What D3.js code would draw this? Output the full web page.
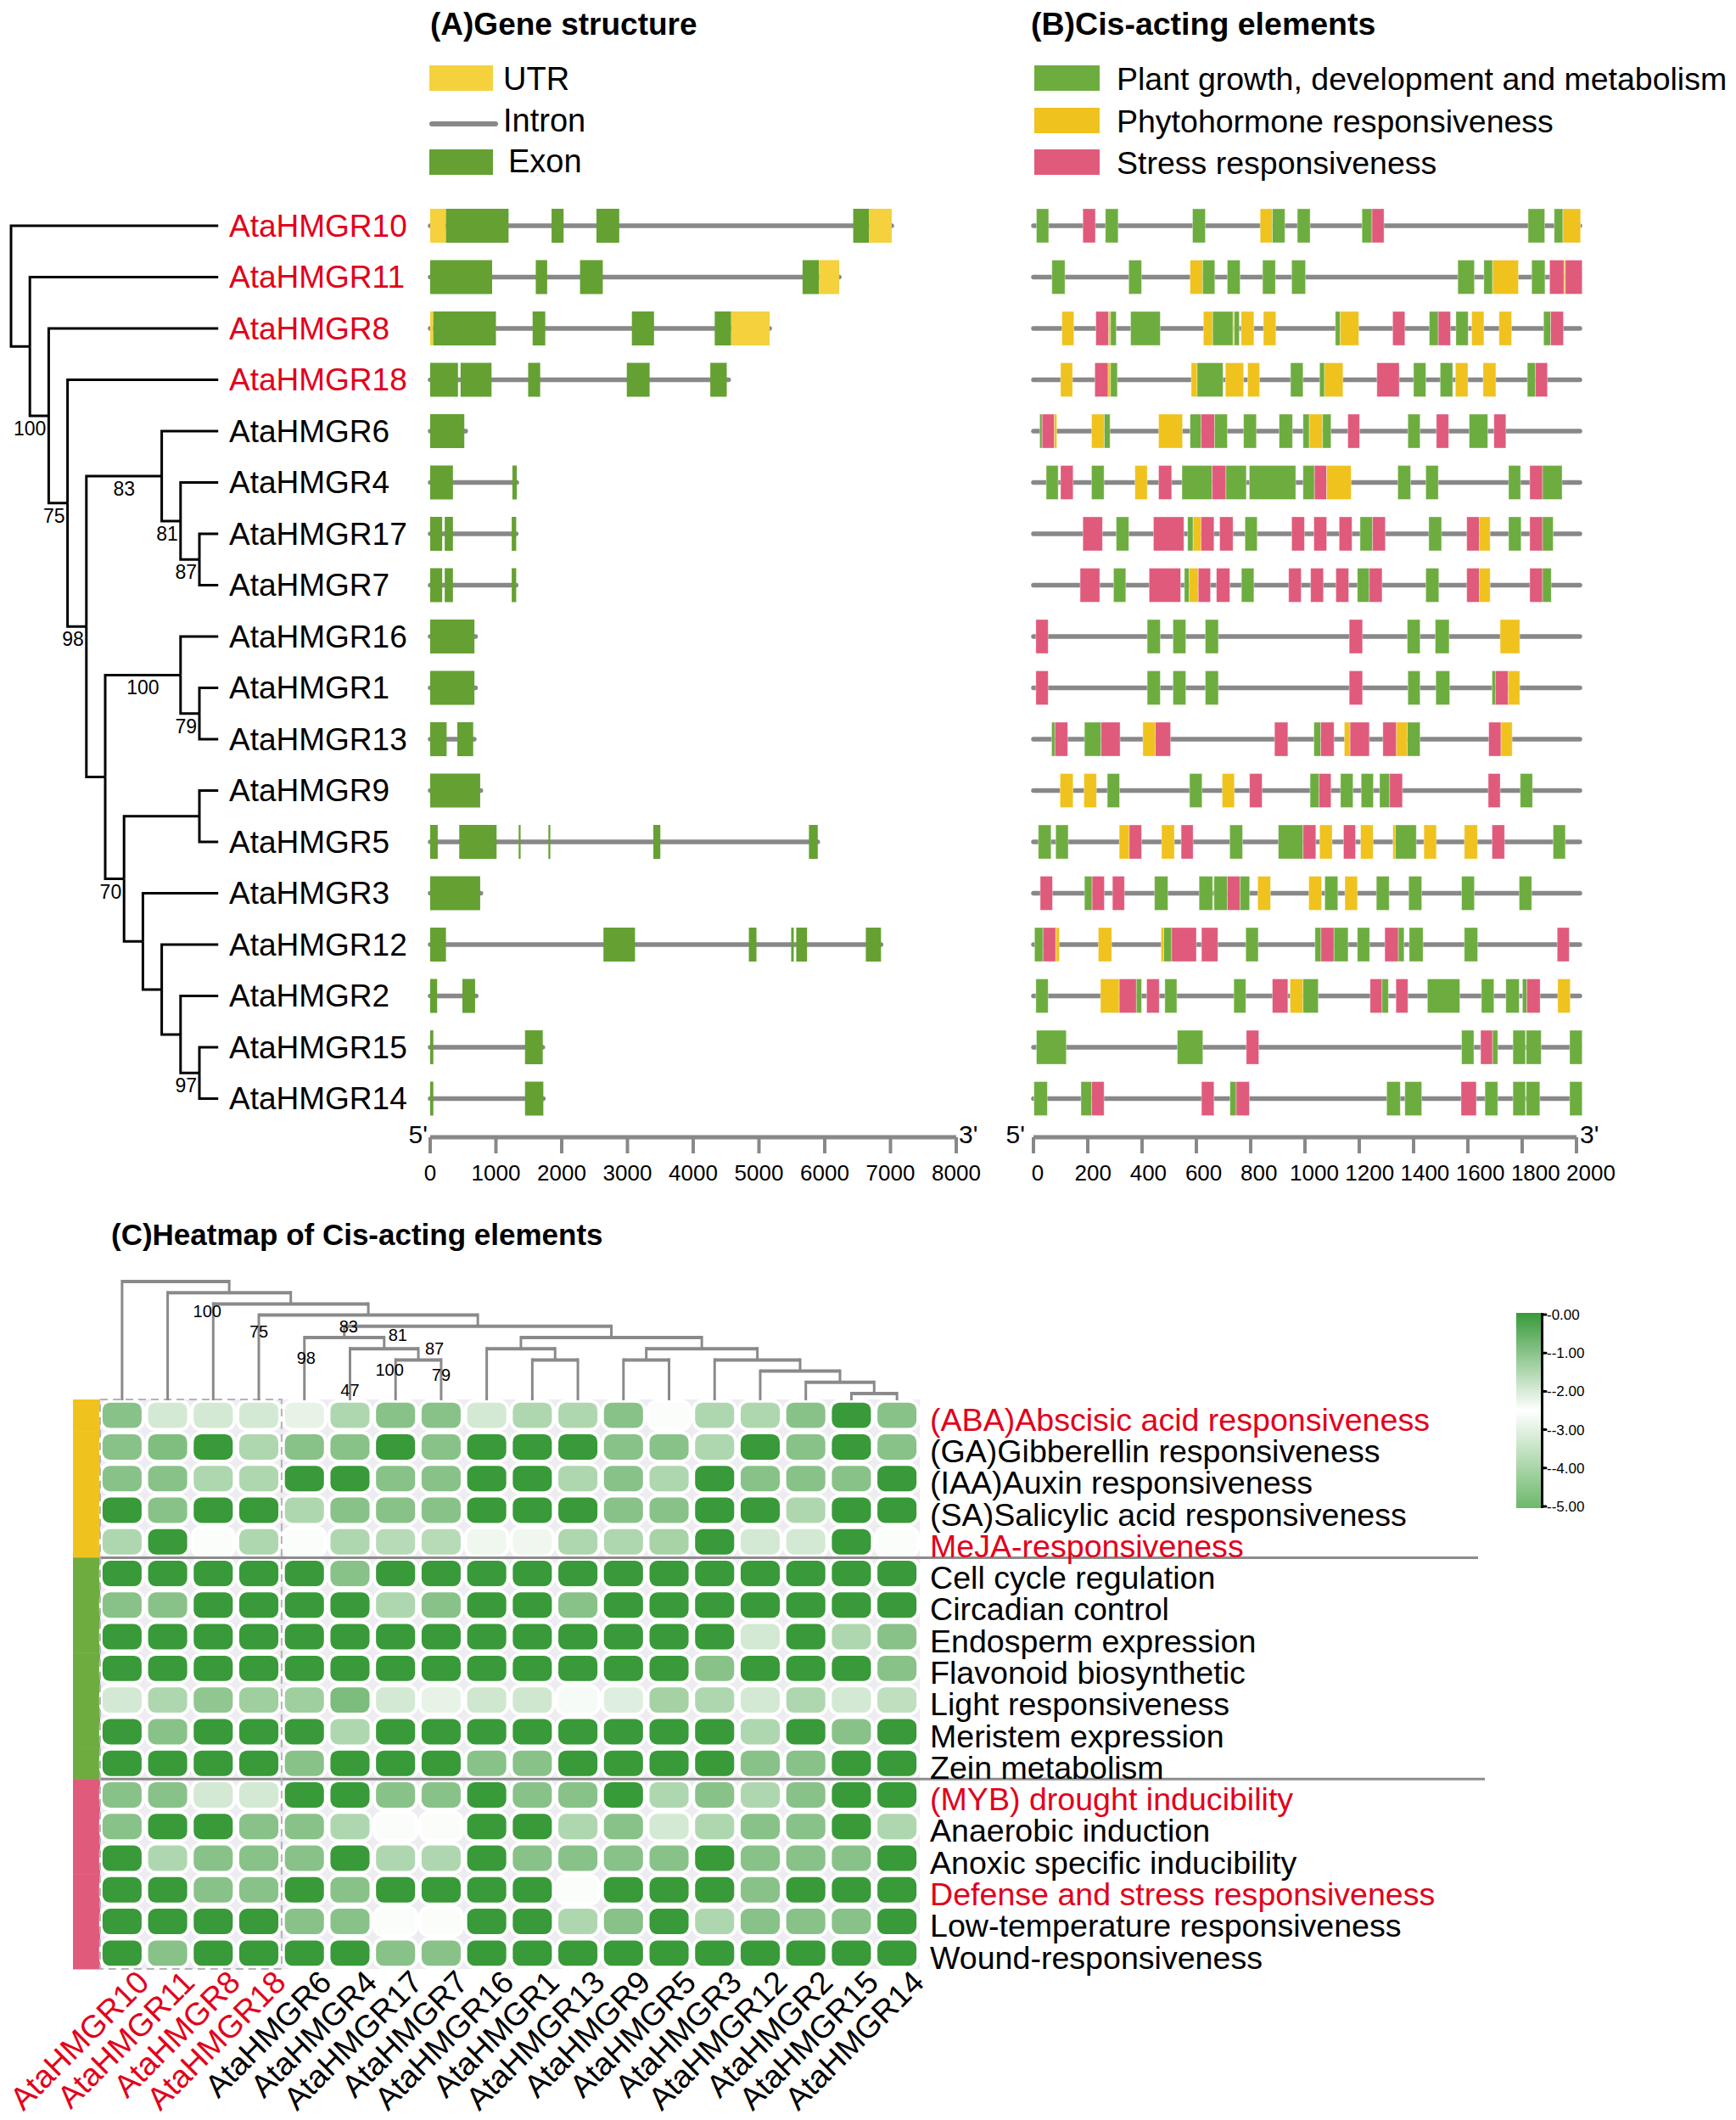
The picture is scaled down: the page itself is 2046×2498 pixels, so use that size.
<!DOCTYPE html>
<html><head><meta charset="utf-8">
<script src="https://cdn.jsdelivr.net/npm/d3@7"></script>
<style>body{margin:0;background:#fff;} svg{display:block;} text{font-family:"Liberation Sans", Arial, Helvetica, sans-serif;}</style>
</head><body><svg id="c" width="2046" height="2498"></svg>
<script>
// ---------------- DATA ----------------
const genes = ["AtaHMGR10","AtaHMGR11","AtaHMGR8","AtaHMGR18","AtaHMGR6","AtaHMGR4","AtaHMGR17","AtaHMGR7","AtaHMGR16","AtaHMGR1","AtaHMGR13","AtaHMGR9","AtaHMGR5","AtaHMGR3","AtaHMGR12","AtaHMGR2","AtaHMGR15","AtaHMGR14"];
const highlightGenes = ["AtaHMGR10","AtaHMGR11","AtaHMGR8","AtaHMGR18"];

// phylogenetic tree (bootstrap support on internal nodes)
const phyloTree = {children:[
  {name:"AtaHMGR10"},
  {children:[
    {name:"AtaHMGR11"},
    {support:100, children:[
      {name:"AtaHMGR8"},
      {support:75, children:[
        {name:"AtaHMGR18"},
        {support:98, children:[
          {support:83, children:[
            {name:"AtaHMGR6"},
            {support:81, children:[
              {name:"AtaHMGR4"},
              {support:87, children:[{name:"AtaHMGR17"},{name:"AtaHMGR7"}]}
            ]}
          ]},
          {children:[
            {support:100, children:[
              {name:"AtaHMGR16"},
              {support:79, children:[{name:"AtaHMGR1"},{name:"AtaHMGR13"}]}
            ]},
            {support:70, children:[
              {children:[{name:"AtaHMGR9"},{name:"AtaHMGR5"}]},
              {children:[
                {name:"AtaHMGR3"},
                {children:[
                  {name:"AtaHMGR12"},
                  {children:[
                    {name:"AtaHMGR2"},
                    {support:97, children:[{name:"AtaHMGR15"},{name:"AtaHMGR14"}]}
                  ]}
                ]}
              ]}
            ]}
          ]}
        ]}
      ]}
    ]}
  ]}
]};

// gene structure (bp): length and features [type, start, end]; U = UTR, E = exon
const geneLengths = [7019,6221,5163,4538,540,1317,1308,1308,690,690,670,770,5894,770,6856,700,1712,1721];
const geneFeatures = [
  [["U",0,240],["E",240,1192],["E",1846,2029],["E",2529,2875],["E",6433,6673],["U",6673,7019]],
  [["E",0,942],["E",1606,1779],["E",2279,2625],["E",5663,5913],["U",5913,6221]],
  [["U",0,48],["E",48,1000],["E",1558,1750],["E",3067,3404],["E",4327,4577],["U",4577,5163]],
  [["E",0,423],["E",462,933],["E",1490,1673],["E",2990,3337],["E",4260,4510]],
  [["E",0,519]],
  [["E",0,346],["E",1250,1317]],
  [["E",0,183],["E",221,346],["E",1240,1308]],
  [["E",0,183],["E",221,346],["E",1240,1308]],
  [["E",0,673]],
  [["E",0,673]],
  [["E",0,250],["E",413,654]],
  [["E",0,760]],
  [["E",0,115],["E",442,1010],["E",1346,1375],["E",1798,1827],["E",3394,3500],["E",5760,5894]],
  [["E",0,760]],
  [["E",0,240],["E",2635,3115],["E",4846,4962],["E",5490,5529],["E",5567,5731],["E",6625,6856]],
  [["E",0,106],["E",490,683]],
  [["E",0,48],["E",1442,1712]],
  [["E",0,48],["E",1442,1721]]
];
const geneAxisTicks = [0,1000,2000,3000,4000,5000,6000,7000,8000];

// cis-acting elements in 2000 bp promoters: [category, start, end]
// G = plant growth/development/metabolism, Y = phytohormone, P = stress
const promoterLength = 2000;
const cisElements = [
  [["G",11,56],["P",182,228],["G",265,312],["G",586,633],["Y",835,880],["G",880,926],["G",972,1019],["G",1210,1247],["P",1247,1291],["G",1822,1883],["G",1918,1950],["Y",1950,2015]],
  [["G",68,116],["G",351,398],["Y",577,623],["G",623,668],["G",714,761],["G",844,891],["G",951,1002],["G",1563,1624],["G",1659,1691],["Y",1691,1786],["G",1835,1884],["P",1901,1954],["Y",1954,1959],["P",1959,2021]],
  [["Y",105,149],["P",230,277],["Y",277,284],["G",284,305],["G",358,467],["Y",626,660],["G",660,735],["Y",735,740],["G",740,758],["Y",765,812],["Y",847,893],["G",1112,1130],["Y",1130,1198],["P",1323,1368],["G",1458,1491],["P",1491,1536],["G",1556,1601],["Y",1614,1659],["Y",1715,1761],["G",1879,1905],["P",1905,1952]],
  [["Y",100,144],["P",226,275],["Y",275,284],["G",284,309],["Y",581,603],["G",603,698],["Y",707,774],["Y",789,833],["G",947,993],["G",1054,1072],["Y",1072,1140],["P",1265,1347],["G",1400,1445],["G",1498,1544],["Y",1554,1600],["Y",1656,1703],["G",1819,1849],["P",1849,1893]],
  [["G",23,32],["P",32,77],["Y",77,86],["Y",214,261],["G",261,282],["Y",461,549],["G",577,617],["P",617,667],["G",667,714],["G",774,821],["G",905,954],["G",993,1016],["Y",1016,1065],["G",1065,1096],["P",1158,1201],["G",1379,1424],["P",1484,1529],["G",1605,1673],["P",1696,1740]],
  [["G",47,91],["P",100,146],["G",214,260],["Y",374,419],["P",461,509],["G",547,658],["P",658,709],["G",709,784],["G",795,966],["G",993,1035],["P",1035,1080],["Y",1080,1170],["G",1342,1389],["G",1445,1491],["G",1750,1794],["P",1828,1875],["G",1875,1947]],
  [["P",182,254],["G",305,351],["P",442,554],["G",568,588],["Y",588,617],["P",617,665],["P",686,735],["G",779,824],["P",951,998],["P",1033,1080],["P",1126,1173],["G",1203,1249],["P",1249,1296],["G",1456,1503],["P",1596,1642],["Y",1642,1682],["G",1750,1796],["P",1828,1875],["G",1875,1914]],
  [["P",172,244],["G",295,340],["P",426,542],["G",556,574],["Y",574,607],["P",607,652],["P",674,723],["G",766,812],["P",940,986],["P",1021,1068],["P",1114,1161],["G",1193,1237],["P",1237,1284],["G",1445,1493],["P",1596,1642],["Y",1642,1682],["P",1828,1875],["G",1875,1907]],
  [["P",9,54],["G",419,467],["G",514,561],["G",633,681],["P",1163,1212],["G",1377,1424],["G",1480,1531],["Y",1719,1791]],
  [["P",9,54],["G",419,467],["G",514,561],["G",633,681],["P",1163,1212],["G",1379,1424],["G",1482,1533],["G",1689,1701],["P",1701,1749],["Y",1749,1791]],
  [["G",67,79],["P",79,126],["G",188,249],["P",249,319],["Y",403,449],["P",449,505],["P",888,937],["G",1033,1058],["P",1058,1107],["Y",1145,1166],["P",1166,1237],["P",1287,1337],["Y",1337,1377],["G",1377,1424],["P",1677,1722],["Y",1722,1763]],
  [["Y",98,146],["Y",186,232],["G",272,317],["G",575,621],["Y",695,740],["P",796,842],["G",1019,1052],["P",1052,1096],["G",1131,1177],["G",1207,1252],["G",1275,1312],["P",1312,1359],["P",1675,1719],["G",1793,1838]],
  [["G",18,65],["G",82,128],["Y",316,353],["P",353,398],["Y",472,519],["P",544,588],["G",723,770],["G",902,993],["P",993,1040],["Y",1054,1100],["P",1142,1186],["Y",1205,1251],["Y",1324,1333],["G",1333,1410],["Y",1438,1484],["Y",1587,1635],["P",1689,1735],["G",1914,1959]],
  [["P",25,70],["G",188,216],["P",216,261],["P",291,335],["G",446,495],["G",610,660],["G",665,714],["P",714,761],["G",761,796],["Y",826,873],["Y",1014,1061],["G",1073,1121],["Y",1147,1193],["G",1263,1310],["G",1382,1430],["G",1577,1624],["G",1789,1835]],
  [["G",4,35],["P",35,82],["Y",82,95],["Y",239,288],["Y",470,480],["G",480,509],["P",509,600],["P",619,679],["G",782,828],["G",1037,1059],["P",1059,1107],["G",1107,1159],["G",1193,1238],["P",1294,1344],["G",1344,1365],["G",1384,1435],["G",1587,1636],["P",1929,1973]],
  [["G",9,54],["Y",247,316],["P",316,379],["G",379,398],["P",417,463],["G",484,528],["G",738,782],["P",880,937],["Y",945,993],["G",993,1049],["P",1240,1284],["G",1284,1307],["P",1335,1379],["G",1451,1570],["G",1650,1696],["G",1740,1789],["G",1801,1817],["P",1817,1866],["Y",1931,1977]],
  [["G",11,121],["G",530,624],["P",784,830],["G",1577,1622],["P",1647,1691],["G",1691,1710],["G",1766,1812],["G",1815,1870],["G",1975,2021]],
  [["G",2,51],["G",175,214],["P",214,260],["P",619,665],["G",724,747],["P",747,795],["G",1301,1351],["G",1368,1430],["P",1575,1631],["G",1663,1710],["G",1766,1812],["G",1815,1865],["G",1975,2021]]
];
const cisAxisTicks = [0,200,400,600,800,1000,1200,1400,1600,1800,2000];
const cisCategories = ["G","Y","P"];
const cisCategoryNames = ["Plant growth, development and metabolism","Phytohormone responsiveness","Stress responsiveness"];

// heatmap
const heatRows = ["(ABA)Abscisic acid responsiveness","(GA)Gibberellin responsiveness","(IAA)Auxin responsiveness","(SA)Salicylic acid responsiveness","MeJA-responsiveness","Cell cycle regulation","Circadian control","Endosperm expression","Flavonoid biosynthetic","Light responsiveness","Meristem expression","Zein metabolism","(MYB) drought inducibility","Anaerobic induction","Anoxic specific inducibility","Defense and stress responsiveness","Low-temperature responsiveness","Wound-responsiveness"];
const heatRowGroups = ["Y","Y","Y","Y","Y","G","G","G","G","G","G","G","P","P","P","P","P","P"];
const highlightRows = ["(ABA)Abscisic acid responsiveness","MeJA-responsiveness","(MYB) drought inducibility","Defense and stress responsiveness"];
const heatValues = [
  [-1.0,-1.95,-1.95,-1.95,-2.2,-1.5,-1.0,-1.0,-1.95,-1.5,-1.5,-1.0,-2.45,-1.5,-1.5,-1.0,0,-1.0],
  [-1.0,-0.9,0,-1.5,-1.0,-1.0,0,-1.0,0,0,0,-1.0,-1.0,-1.5,0,-1.0,0,-1.0],
  [-1.0,-1.0,-1.5,-1.5,0,0,-1.0,-1.0,0,0,-1.5,-1.0,-1.5,0,-1.0,-1.0,-1.0,0],
  [0,-1.0,0,0,-1.5,-1.0,-1.0,-1.0,0,0,0,-1.0,-1.0,0,0,-1.5,0,0],
  [-1.5,0,-2.45,-1.5,-2.45,-1.5,-1.6,-1.6,-2.3,-2.3,-1.5,-1.5,-1.4,0,-1.95,-1.95,0,-2.45],
  [0,0,0,0,0,-1.0,0,0,0,0,0,0,0,0,0,0,0,0],
  [-1.0,-1.0,0,0,0,0,-1.5,-1.0,0,0,-1.0,0,0,0,0,0,0,0],
  [0,0,0,0,0,0,0,0,0,0,0,0,0,0,-1.95,0,-1.5,-1.0],
  [0,0,0,0,0,0,0,0,0,0,0,0,0,-1.0,0,0,0,-1.0],
  [-1.95,-1.5,-1.1,-1.3,-1.3,-0.85,-1.95,-2.2,-1.9,-1.9,-2.4,-2.1,-1.37,-1.5,-1.95,-1.5,-1.95,-1.7],
  [0,-1.0,0,0,0,-1.5,0,0,0,0,0,0,0,0,-1.5,0,-1.0,0],
  [0,0,0,0,-1.0,0,0,0,-1.0,-1.0,0,0,0,0,-1.0,-1.0,0,0],
  [-1.0,-1.0,-1.95,-1.95,0,0,-1.0,-1.0,0,-1.0,-1.0,0,-1.5,-1.0,-1.5,-1.0,0,0],
  [-1.0,0,0,-1.0,-1.0,-1.5,-2.45,-2.45,0,0,-1.5,-1.0,-1.95,-1.5,-1.0,-1.0,0,-1.5],
  [0,-1.5,-1.0,-1.0,-1.0,0,-1.5,-1.5,0,-1.0,-1.0,-1.0,-1.0,0,-1.0,-1.0,-1.0,0],
  [0,0,-1.0,-1.0,0,-1.0,0,0,0,0,-2.45,0,0,0,-1.0,0,0,0],
  [0,0,0,0,-1.0,-1.0,-2.45,-2.45,0,0,-1.5,-1.0,0,-1.5,-1.0,-1.0,-1.0,0],
  [0,-1.0,0,0,0,0,-1.0,-1.0,0,0,0,0,0,0,0,0,0,0]
];
// column dendrogram of heatmap
const heatDendro = {name:"n17", children:[
  {name:"AtaHMGR10"},
  {name:"n16", children:[
    {name:"AtaHMGR11"},
    {name:"n15", children:[
      {name:"AtaHMGR8"},
      {name:"n14", children:[
        {name:"AtaHMGR18"},
        {name:"n13", children:[
          {name:"n12", children:[
            {name:"AtaHMGR6"},
            {name:"n11", children:[
              {name:"AtaHMGR4"},
              {name:"n10", children:[{name:"AtaHMGR17"},{name:"AtaHMGR7"}]}
            ]}
          ]},
          {name:"n9", children:[
            {name:"n8", children:[
              {name:"AtaHMGR16"},
              {name:"n7", children:[{name:"AtaHMGR1"},{name:"AtaHMGR13"}]}
            ]},
            {name:"n6", children:[
              {name:"n5", children:[{name:"AtaHMGR9"},{name:"AtaHMGR5"}]},
              {name:"n4", children:[
                {name:"AtaHMGR3"},
                {name:"n3", children:[
                  {name:"AtaHMGR12"},
                  {name:"n2", children:[
                    {name:"AtaHMGR2"},
                    {name:"n1", children:[{name:"AtaHMGR15"},{name:"AtaHMGR14"}]}
                  ]}
                ]}
              ]}
            ]}
          ]}
        ]}
      ]}
    ]}
  ]}
]};
// dendrogram annotation: [text, node giving x, node giving y]
const heatDendroLabels = [["100","AtaHMGR8","n15"],["75","AtaHMGR18","n14"],["83","n12","n13"],["81","n11","n12"],["98","AtaHMGR6","n12"],["87","n10","n11"],["100","AtaHMGR17","n10"],["79","AtaHMGR7","n10"],["47","AtaHMGR4","n11"]];
const colorTicks = [0,-1,-2,-3,-4,-5];

// ---------------- STYLE ----------------
const RED = "#E2001A";
const catColor = {G:"#6DAD3F", Y:"#F0C21E", P:"#E05A7B"};
const UTR_COLOR = "#F4D13D", EXON_COLOR = "#64A132", LINE_GRAY = "#888888";
const dendroLabelOffset = {0:[-7,9],1:[0,19],2:[5,0],3:[16,-3],4:[2,24],5:[19,0],6:[-7,12],7:[0,18],8:[0,49]};

const svg = d3.select("#c");
svg.append("rect").attr("width",2046).attr("height",2498).attr("fill","#fff");

function txt(g, x, y, s, size, opts={}) {
  return g.append("text").attr("x",x).attr("y",y).attr("dy","0.35em")
    .attr("font-size",size).attr("font-weight",opts.bold?"bold":null)
    .attr("text-anchor",opts.anchor||"start").attr("fill",opts.fill||"#000").text(s);
}

// ---------------- PANEL A: tree + gene structure ----------------
const rowStep = 60.5, row0 = 266;
const rowY = d3.scalePoint().domain(genes).range([row0, row0 + rowStep*(genes.length-1)]);
const xGene = d3.scaleLinear().domain([0,8000]).range([507,1127]);
const featH = 40;

const gA = svg.append("g");
txt(gA, 507, 28, "(A)Gene structure", 37, {bold:true});
// legend
gA.append("rect").attr("x",506).attr("y",77).attr("width",75).attr("height",30).attr("fill",UTR_COLOR);
txt(gA, 593, 93, "UTR", 38);
gA.append("line").attr("x1",509).attr("x2",584).attr("y1",146).attr("y2",146).attr("stroke",LINE_GRAY).attr("stroke-width",6).attr("stroke-linecap","round");
txt(gA, 593, 142, "Intron", 38);
gA.append("rect").attr("x",506).attr("y",176).attr("width",75).attr("height",30).attr("fill",EXON_COLOR);
txt(gA, 599, 190, "Exon", 38);

// tree (cladogram; leaves aligned)
const treeRoot = d3.hierarchy(phyloTree);
const treeStep = 22.2;
d3.cluster().nodeSize([rowStep, treeStep]).separation(() => 1)(treeRoot);
const firstLeaf = treeRoot.leaves()[0];
const tx = d => 13 + d.y, ty = d => row0 + (d.x - firstLeaf.x);
const gT = svg.append("g");
gT.selectAll("path").data(treeRoot.links()).join("path")
  .attr("d", l => `M${tx(l.source)},${ty(l.source)}V${ty(l.target)}H${tx(l.target)}`)
  .attr("fill","none").attr("stroke","#000").attr("stroke-width",3);
treeRoot.descendants().filter(d => d.data.support != null).forEach(d => {
  const s = String(d.data.support), w = s.length*0.556*23;
  const cx = Math.min((tx(d.parent)+tx(d))/2, tx(d) - 3 - w/2);
  txt(gT, cx, ty(d) + 15, s, 23, {anchor:"middle"});
});
treeRoot.leaves().forEach(d => {
  txt(gT, 270, ty(d), d.data.name, 37, {fill: highlightGenes.includes(d.data.name) ? RED : "#000"});
});

// gene models
const gG = svg.append("g");
const geneRows = genes.map((name,i) => ({name, len: geneLengths[i], feats: geneFeatures[i]}));
const gr = gG.selectAll("g").data(geneRows).join("g").attr("transform", d => `translate(0,${rowY(d.name)})`);
gr.append("line").attr("x1", xGene(0)).attr("x2", d => xGene(d.len)).attr("stroke",LINE_GRAY)
  .attr("stroke-width",5.5).attr("stroke-linecap","round");
gr.selectAll("rect").data(d => d.feats).join("rect")
  .attr("x", f => xGene(f[1])).attr("width", f => Math.max(1.5, xGene(f[2]) - xGene(f[1])))
  .attr("y", -featH/2).attr("height", featH)
  .attr("fill", f => f[0]==="U" ? UTR_COLOR : EXON_COLOR);

// gene axis
const axY = 1340;
const gAx = svg.append("g");
gAx.append("line").attr("x1",xGene(0)).attr("x2",xGene(8000)).attr("y1",axY).attr("y2",axY).attr("stroke",LINE_GRAY).attr("stroke-width",5);
gAx.selectAll("line.t").data(geneAxisTicks).join("line").attr("class","t")
  .attr("x1", d => xGene(d)).attr("x2", d => xGene(d)).attr("y1", axY).attr("y2", axY+19)
  .attr("stroke",LINE_GRAY).attr("stroke-width",4);
gAx.selectAll("text.t").data(geneAxisTicks).join("text").attr("class","t")
  .attr("x", d => xGene(d)).attr("y", 1382).attr("dy","0.35em").attr("text-anchor","middle").attr("font-size",26).text(d => d);
txt(gAx, xGene(0)-3, axY-4, "5'", 30, {anchor:"end"});
txt(gAx, xGene(8000)+3, axY-4, "3'", 30);

// ---------------- PANEL B: cis-acting elements ----------------
const xCis = d3.scaleLinear().domain([0,promoterLength]).range([1218,1858]);
const gB = svg.append("g");
txt(gB, 1215, 28, "(B)Cis-acting elements", 37.5, {bold:true});
cisCategories.forEach((c,i) => {
  const y = [77,127,176][i];
  gB.append("rect").attr("x",1219).attr("y",y).attr("width",77).attr("height",30).attr("fill",catColor[c]);
  txt(gB, 1316, y+16, cisCategoryNames[i], 37.5);
});
const cisRows = genes.map((name,i) => ({name, els: cisElements[i]}));
const cr = gB.selectAll("g.row").data(cisRows).join("g").attr("class","row").attr("transform", d => `translate(0,${rowY(d.name)})`);
cr.append("line").attr("x1", xCis(0)).attr("x2", xCis(promoterLength)+4).attr("stroke",LINE_GRAY)
  .attr("stroke-width",5.5).attr("stroke-linecap","round");
cr.selectAll("rect").data(d => d.els).join("rect")
  .attr("x", e => xCis(e[1])).attr("width", e => Math.max(1.5, xCis(e[2]) - xCis(e[1])))
  .attr("y", -featH/2).attr("height", featH).attr("fill", e => catColor[e[0]])
  .attr("stroke","rgba(255,255,255,0.45)").attr("stroke-width",0.8);
const gBx = svg.append("g");
gBx.append("line").attr("x1",xCis(0)).attr("x2",xCis(2000)).attr("y1",axY).attr("y2",axY).attr("stroke",LINE_GRAY).attr("stroke-width",5);
gBx.selectAll("line.t").data(cisAxisTicks).join("line").attr("class","t")
  .attr("x1", d => xCis(d)).attr("x2", d => xCis(d)).attr("y1", axY).attr("y2", axY+19)
  .attr("stroke",LINE_GRAY).attr("stroke-width",4);
gBx.selectAll("text.t").data(cisAxisTicks).join("text").attr("class","t")
  .attr("x", d => xCis(d) + 5 + d*0.006).attr("y", 1382).attr("dy","0.35em").attr("text-anchor","middle").attr("font-size",26).text(d => d);
txt(gBx, xCis(0)-10, axY-4, "5'", 30, {anchor:"end"});
txt(gBx, xCis(2000)+4, axY-4, "3'", 30);

// ---------------- PANEL C: heatmap ----------------
const gC = svg.append("g");
txt(gC, 131, 1455, "(C)Heatmap of Cis-acting elements", 35, {bold:true});
const hx = d3.scaleBand().domain(genes).range([117,1084]).paddingInner(0.143).paddingOuter(0.0715);
const hy = d3.scaleBand().domain(heatRows).range([1649,2320]).paddingInner(0.196).paddingOuter(0.098);
const heatColor = d3.scaleLinear().domain([-5,-2.5,0]).range(["#6DB86B","#FFFFFF","#389A38"]);
const hTop = hy.range()[0], hBot = hy.range()[1];

gC.append("rect").attr("x",118).attr("y",hTop).attr("width",1084-118).attr("height",hBot-hTop).attr("fill","#ECECF1");
// group bar
heatRows.forEach((r,i) => {
  gC.append("rect").attr("x",86).attr("y",hTop + i*hy.step()).attr("width",32).attr("height",hy.step()+0.5)
    .attr("fill",catColor[heatRowGroups[i]]);
});
const cells = [];
heatRows.forEach((r,i) => genes.forEach((g,j) => cells.push({r, g, v: heatValues[i][j]})));
gC.selectAll("rect.cell").data(cells).join("rect").attr("class","cell")
  .attr("x", d => hx(d.g)).attr("y", d => hy(d.r)).attr("width", hx.bandwidth()).attr("height", hy.bandwidth())
  .attr("rx",9).attr("ry",9).attr("fill", d => heatColor(d.v))
  .attr("stroke","#fff").attr("stroke-width",8).attr("paint-order","stroke");
// group separators
[5,12].forEach((k,i) => {
  const y = hTop + k*hy.step();
  gC.append("line").attr("x1",118).attr("x2",[1742,1750][i]).attr("y1",y).attr("y2",y).attr("stroke","#8C8C8C").attr("stroke-width",3);
});
// dashed frame around highlighted genes
const dashX = hx("AtaHMGR6") - hx.step()*hx.paddingInner()/2;
gC.append("rect").attr("x",118).attr("y",hTop).attr("width",dashX-118).attr("height",hBot-hTop)
  .attr("fill","none").attr("stroke","#B4B4B8").attr("stroke-width",2).attr("stroke-dasharray","9,6");
// row labels
heatRows.forEach(r => txt(gC, 1096, hy(r)+hy.bandwidth()/2+5, r, 37.6, {fill: highlightRows.includes(r) ? RED : "#000"}));
// column labels
genes.forEach(g => {
  const x = hx(g) + hx.bandwidth()/2 + 34, y = 2338;
  gC.append("text").attr("transform",`translate(${x},${y}) rotate(-45)`).attr("text-anchor","end")
    .attr("font-size",37.5).attr("fill", highlightGenes.includes(g) ? RED : "#000").text(g);
});

// column dendrogram
const dRoot = d3.hierarchy(heatDendro);
const dTop = 1510, dStep = 13.2, leafBottom = 1650;
dRoot.eachAfter(d => {
  d.px = d.children ? d3.mean(d.children, c => c.px) : hx(d.data.name) + hx.bandwidth()/2;
  d.py = d.children ? dTop + d.depth*dStep : leafBottom;
});
const gD = gC.append("g");
dRoot.descendants().filter(d => d.children).forEach(d => {
  gD.append("line").attr("x1", d.children[0].px).attr("x2", d.children[1].px).attr("y1", d.py).attr("y2", d.py)
    .attr("stroke","#8A8A8A").attr("stroke-width",4);
});
dRoot.descendants().filter(d => d.parent).forEach(d => {
  gD.append("line").attr("x1", d.px).attr("x2", d.px).attr("y1", d.parent.py - 2).attr("y2", d.py)
    .attr("stroke","#8A8A8A").attr("stroke-width",3);
});
const byName = {}; dRoot.descendants().forEach(d => byName[d.data.name] = d);
heatDendroLabels.forEach((l,i) => {
  const o = dendroLabelOffset[i];
  txt(gD, byName[l[1]].px + o[0], byName[l[2]].py + o[1], l[0], 20, {anchor:"middle"});
});

// colour bar
const cbX = 1787, cbW = 29;
const cbY = d3.scaleLinear().domain([0,-5]).range([1549,1775]);
const defs = svg.append("defs");
const grad = defs.append("linearGradient").attr("id","cbg").attr("x1",0).attr("x2",0).attr("y1",0).attr("y2",1);
d3.range(0,1.0001,0.05).forEach(t => grad.append("stop").attr("offset",t).attr("stop-color", heatColor(-5*t)));
gC.append("rect").attr("x",cbX).attr("y",1547).attr("width",cbW).attr("height",230).attr("fill","url(#cbg)");
gC.append("line").attr("x1",cbX+cbW+1.5).attr("x2",cbX+cbW+1.5).attr("y1",1547).attr("y2",1777).attr("stroke","#000").attr("stroke-width",3);
colorTicks.forEach(t => {
  gC.append("line").attr("x1",cbX+cbW+1.5).attr("x2",cbX+cbW+6).attr("y1",cbY(t)).attr("y2",cbY(t)).attr("stroke","#000").attr("stroke-width",3).attr("stroke-linecap","round");
  txt(gC, cbX+cbW+7, cbY(t), "-" + (t===0 ? "0.00" : t.toFixed(2)), 17);
});
</script></body></html>
